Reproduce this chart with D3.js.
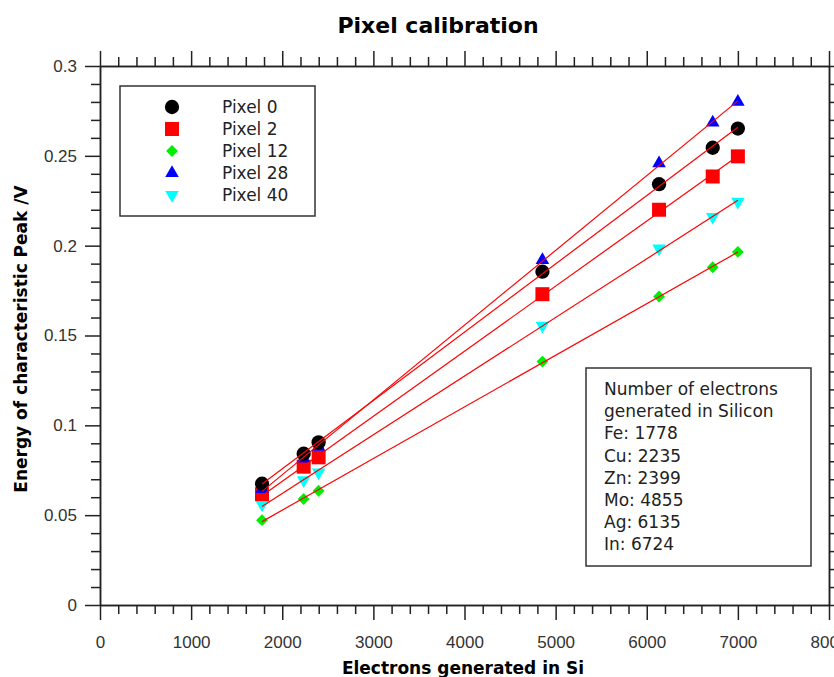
<!DOCTYPE html>
<html>
<head>
<meta charset="utf-8">
<script src="https://cdn.jsdelivr.net/npm/d3@7"></script>
<style>
  body { margin: 0; background: #fff; }
  svg { font-family: "DejaVu Sans", sans-serif; }
  .axis path, .axis line { stroke: #222; stroke-width: 1.5; }
  .axis text { font-size: 17px; fill: #333; }
</style>
</head>
<body>
<div id="chart"></div>
<script>
var width = 834;
var height = 677;
var plot = { left: 100, right: 829, top: 66, bottom: 605 };

// electrons generated in Si for each line
var electrons = [1778, 2235, 2399, 4855, 6135, 6724, 7000];
var seriesNames = ["Pixel 0", "Pixel 2", "Pixel 12", "Pixel 28", "Pixel 40"];
var pixel0 = [0.0675, 0.0842, 0.0905, 0.1855, 0.2342, 0.2545, 0.2652];
var pixel2 = [0.0617, 0.0770, 0.0822, 0.1730, 0.2200, 0.2385, 0.2497];
var pixel12 = [0.0472, 0.0590, 0.0636, 0.1355, 0.1717, 0.1880, 0.1965];
var pixel28 = [0.0645, 0.0815, 0.0880, 0.1920, 0.2458, 0.2685, 0.2800];
var pixel40 = [0.0560, 0.0695, 0.0738, 0.1555, 0.1985, 0.2160, 0.2245];
var xTicks = [0, 1000, 2000, 3000, 4000, 5000, 6000, 7000, 8000];
var yTicks = [0, 0.05, 0.1, 0.15, 0.2, 0.25, 0.3];
var noteLines = ["Number of electrons", "generated in Silicon", "Fe: 1778", "Cu: 2235",
                 "Zn: 2399", "Mo: 4855", "Ag: 6135", "In: 6724"];

var seriesValues = [pixel0, pixel2, pixel12, pixel28, pixel40];
var colors = ["#000000", "#ff0000", "#00ee00", "#0000ff", "#00ffff"];
var shapes = [
    { type: d3.symbolCircle, size: 160, rot: 0 },
    { type: d3.symbolSquare, size: 196, rot: 0 },
    { type: d3.symbolSquare, size: 70, rot: 45 },
    { type: d3.symbolTriangle, size: 80, rot: 0 },
    { type: d3.symbolTriangle, size: 80, rot: 180 }
];
var drawOrder = [4, 2, 1, 3, 0];

var x = d3.scaleLinear().domain([0, 8000]).range([plot.left, plot.right]);
var y = d3.scaleLinear().domain([0, 0.3]).range([plot.bottom, plot.top]);

var svg = d3.select("#chart").append("svg")
    .attr("width", width)
    .attr("height", height);

var xMinor = d3.range(0, 8001, 200).filter(function (d) { return d % 1000 != 0; });
var yMinor = d3.range(0, 31).map(function (d) { return d / 100; })
    .filter(function (d) { return Math.round(d * 100) % 5 != 0; });

// minor ticks
svg.append("g").attr("class", "axis").attr("transform", "translate(0," + plot.bottom + ")")
    .call(d3.axisBottom(x).tickValues(xMinor).tickSize(9).tickFormat("").tickSizeOuter(0));
svg.append("g").attr("class", "axis").attr("transform", "translate(0," + plot.top + ")")
    .call(d3.axisTop(x).tickValues(xMinor).tickSize(9).tickFormat("").tickSizeOuter(0));
svg.append("g").attr("class", "axis").attr("transform", "translate(" + plot.left + ",0)")
    .call(d3.axisLeft(y).tickValues(yMinor).tickSize(9).tickFormat("").tickSizeOuter(0));
svg.append("g").attr("class", "axis").attr("transform", "translate(" + plot.right + ",0)")
    .call(d3.axisRight(y).tickValues(yMinor).tickSize(9).tickFormat("").tickSizeOuter(0));

// major ticks
svg.append("g").attr("class", "axis").attr("transform", "translate(0," + plot.bottom + ")")
    .call(d3.axisBottom(x).tickValues(xTicks).tickSize(15).tickPadding(16)
        .tickFormat(d3.format("d")).tickSizeOuter(0));
svg.append("g").attr("class", "axis").attr("transform", "translate(0," + plot.top + ")")
    .call(d3.axisTop(x).tickValues(xTicks).tickSize(15).tickFormat("").tickSizeOuter(0));
svg.append("g").attr("class", "axis").attr("transform", "translate(" + plot.left + ",0)")
    .call(d3.axisLeft(y).tickValues(yTicks).tickSize(15).tickPadding(8)
        .tickFormat(function (d) { return String(+d.toFixed(2)); }).tickSizeOuter(0));
svg.append("g").attr("class", "axis").attr("transform", "translate(" + plot.right + ",0)")
    .call(d3.axisRight(y).tickValues(yTicks).tickSize(15).tickFormat("").tickSizeOuter(0));

// markers
drawOrder.forEach(function (s) {
    svg.append("g").selectAll("path")
        .data(seriesValues[s])
        .enter()
        .append("path")
        .attr("d", d3.symbol().type(shapes[s].type).size(shapes[s].size))
        .attr("transform", function (d, i) {
            return "translate(" + x(electrons[i]) + "," + y(d) + ") rotate(" + shapes[s].rot + ")";
        })
        .attr("fill", colors[s]);
});

// least squares fit lines
function fit(vals) {
    var mx = d3.mean(electrons), my = d3.mean(vals);
    var sxy = d3.sum(electrons, function (e, i) { return (e - mx) * (vals[i] - my); });
    var sxx = d3.sum(electrons, function (e) { return (e - mx) * (e - mx); });
    var b = sxy / sxx;
    return { b: b, a: my - b * mx };
}
var xExt = d3.extent(electrons);
seriesValues.forEach(function (vals) {
    var f = fit(vals);
    svg.append("line")
        .attr("x1", x(xExt[0])).attr("y1", y(f.a + f.b * xExt[0]))
        .attr("x2", x(xExt[1])).attr("y2", y(f.a + f.b * xExt[1]))
        .attr("stroke", "#ff0000")
        .attr("stroke-width", 1.2);
});

// legend
var legend = svg.append("g");
legend.append("rect")
    .attr("x", 120).attr("y", 86).attr("width", 195).attr("height", 130)
    .attr("fill", "#fff").attr("stroke", "#333").attr("stroke-width", 1.5);
seriesNames.forEach(function (name, s) {
    var ly = 107 + s * 22;
    legend.append("path")
        .attr("d", d3.symbol().type(shapes[s].type).size(shapes[s].size))
        .attr("transform", "translate(172," + ly + ") rotate(" + shapes[s].rot + ")")
        .attr("fill", colors[s]);
    legend.append("text")
        .attr("x", 222).attr("y", ly)
        .attr("dy", "0.35em")
        .attr("font-size", "17px")
        .attr("fill", "#222")
        .text(name);
});

// note box
var note = svg.append("g");
note.append("rect")
    .attr("x", 586).attr("y", 368).attr("width", 225).attr("height", 198)
    .attr("fill", "#fff").attr("stroke", "#333").attr("stroke-width", 1.5);
note.selectAll("text")
    .data(noteLines)
    .enter()
    .append("text")
    .attr("x", 604)
    .attr("y", function (d, i) { return 389 + i * 22.2; })
    .attr("dy", "0.35em")
    .attr("font-size", "17px")
    .attr("fill", "#222")
    .text(function (d) { return d; });

// titles
svg.append("text")
    .attr("x", 438).attr("y", 33)
    .attr("text-anchor", "middle")
    .attr("font-size", "22px").attr("font-weight", "bold")
    .text("Pixel calibration");
svg.append("text")
    .attr("x", 463).attr("y", 674)
    .attr("text-anchor", "middle")
    .attr("font-size", "17px").attr("font-weight", "bold")
    .text("Electrons generated in Si");
svg.append("text")
    .attr("transform", "translate(21,339) rotate(-90)")
    .attr("text-anchor", "middle")
    .attr("dy", "0.35em")
    .attr("font-size", "17px").attr("font-weight", "bold")
    .text("Energy of characteristic Peak /V");
</script>
</body>
</html>
